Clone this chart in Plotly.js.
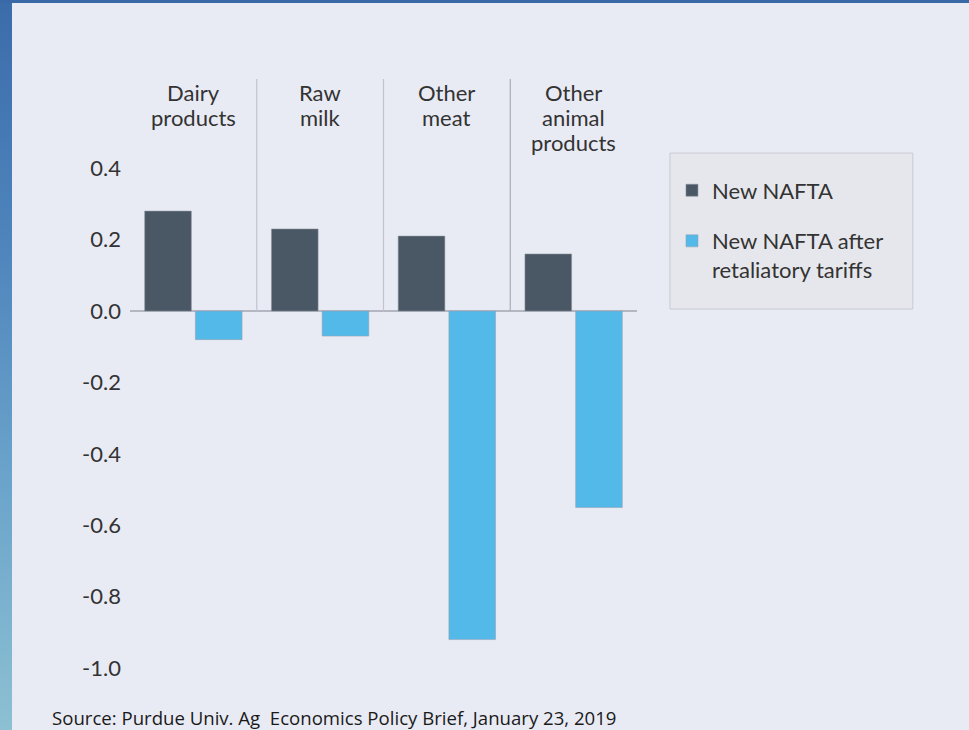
<!DOCTYPE html>
<html>
<head>
<meta charset="utf-8">
<script src="https://cdn.plot.ly/plotly-3.0.1.min.js"></script>
<style>
html,body{margin:0;padding:0;width:969px;height:730px;overflow:hidden;}
body{
  background:
    linear-gradient(#3a69a7,#3a69a7) left top / 100% 3px no-repeat,
    linear-gradient(to bottom,#3b6caa 0%,#4f86bd 35%,#6aa3cb 65%,#8cc0d2 100%) left top / 12px 100% no-repeat,
    #e9ebf4;
}
#chart{width:969px;height:730px;}
</style>
</head>
<body>
<div id="chart"></div>
<script>
const categories = ["Dairy products", "Raw milk", "Other meat", "Other animal products"];
const categoryLines = [["Dairy", "products"], ["Raw", "milk"], ["Other", "meat"], ["Other", "animal", "products"]];
const newNafta = [0.28, 0.23, 0.21, 0.16];
const afterTariffs = [-0.08, -0.07, -0.92, -0.55];
const seriesNames = ["New NAFTA", "New NAFTA after<br>retaliatory tariffs"];
const tickValues = [0.4, 0.2, 0.0, -0.2, -0.4, -0.6, -0.8, -1.0];
const tickLabels = ["0.4", "0.2", "0.0", "-0.2", "-0.4", "-0.6", "-0.8", "-1.0"];
const sourceText = "Source: Purdue Univ. Ag&nbsp; Economics Policy Brief, January 23, 2019";

const FONT = "Lato, 'Open Sans', sans-serif";
const TXT = "#333333";

const traces = [
  {type: "bar", x: categories, y: newNafta, name: seriesNames[0], legendgroup: "a",
   marker: {color: "#4a5866", line: {color: "rgba(140,145,155,0.7)", width: 0.8}}, hoverinfo: "y"},
  {type: "bar", x: categories, y: afterTariffs, name: seriesNames[1], legendgroup: "b",
   marker: {color: "#52b9e8", line: {color: "rgba(150,160,180,0.7)", width: 0.8}}, hoverinfo: "y"}
];

const shapes = [];
for (let i = 0; i < categories.length - 1; i++) {
  shapes.push({type: "line", xref: "x", yref: "y", x0: i + 0.5, x1: i + 0.5, y0: 0, y1: 0.65,
    line: {color: i === 2 ? "#a9aab4" : "#c2c3cc", width: 1.2}});
}
// legend box
shapes.push({type: "rect", xref: "paper", yref: "paper", x0: 1.065, x1: 1.544, y0: 0.621, y1: 0.878,
  fillcolor: "#e6e7ec", line: {color: "#c9cad2", width: 1}, layer: "below"});

const annotations = [];
const labelTop = 0.613, labelStep = 0.07;
categoryLines.forEach((lines, i) => {
  lines.forEach((ln, j) => {
    annotations.push({
      x: categories[i], y: labelTop - j * labelStep, xref: "x", yref: "y", yanchor: "middle", xanchor: "center",
      text: ln, showarrow: false, font: {family: FONT, size: 22, color: TXT}
    });
  });
});
annotations.push({x: -0.158, y: -0.052, xref: "paper", yref: "paper", xanchor: "left", yanchor: "middle",
  text: sourceText, showarrow: false, font: {family: "'Open Sans', sans-serif", size: 18.6, color: "#1a1a1a"}});

const layout = {
  width: 969, height: 730,
  margin: {l: 130, r: 332, t: 78.6, b: 43.6, pad: 0},
  paper_bgcolor: "rgba(0,0,0,0)", plot_bgcolor: "rgba(0,0,0,0)",
  barmode: "group", bargap: 0.2, bargroupgap: 0.08,
  font: {family: FONT, size: 22, color: TXT},
  showlegend: true,
  legend: {x: 1.069, y: 0.851, xanchor: "left", yanchor: "top", bgcolor: "rgba(0,0,0,0)",
    font: {family: FONT, size: 22, color: TXT}, traceorder: "grouped", tracegroupgap: 19, valign: "top"},
  xaxis: {showticklabels: false, showgrid: false, zeroline: false, showline: false, ticks: "", fixedrange: true},
  yaxis: {range: [-1.05, 0.65], tickvals: tickValues, ticktext: tickLabels, showgrid: false,
    zeroline: true, zerolinecolor: "#b4b7c2", zerolinewidth: 1.5, showline: false, ticks: "",
    ticklabelstandoff: 8, tickfont: {family: FONT, size: 22, color: TXT}, fixedrange: true},
  shapes: shapes,
  annotations: annotations
};

Plotly.newPlot("chart", traces, layout, {displayModeBar: false, staticPlot: true});
</script>
</body>
</html>
